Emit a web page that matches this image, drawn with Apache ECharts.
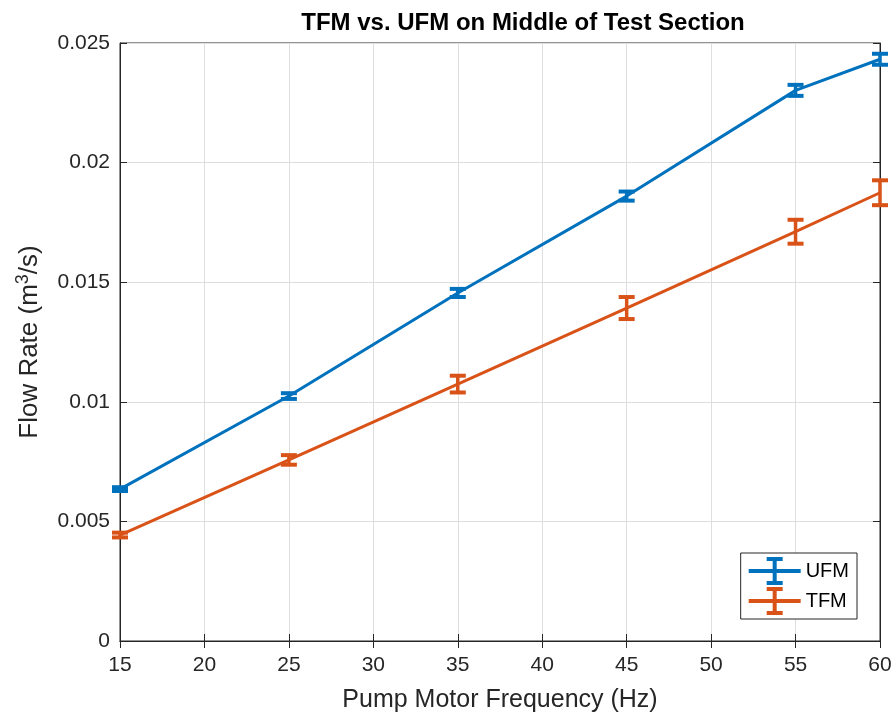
<!DOCTYPE html>
<html>
<head>
<meta charset="utf-8">
<script src="https://cdn.jsdelivr.net/npm/echarts@6/dist/echarts.min.js"></script>
<style>
  html, body { margin: 0; padding: 0; background: #fff; }
  #main { width: 896px; height: 719px; }
</style>
</head>
<body>
<div id="main"></div>
<script>
// pump frequency (Hz)
var freq = [15, 25, 35, 45, 55, 60];
// flow rates (m^3/s) and their error half-widths
var ufm = [0.00635, 0.01024, 0.01455, 0.0186, 0.02302, 0.02432];
var ufmErr = [0.00008, 0.00012, 0.00017, 0.00019, 0.00023, 0.00023];
var tfm = [0.00443, 0.00757, 0.01074, 0.01392, 0.01711, 0.01874];
var tfmErr = [0.0001, 0.0002, 0.00035, 0.00046, 0.0005, 0.00052];

var blue = '#0072BD';
var orange = '#D95319';
var axisCol = '#262626';

// legend icon: line with an error bar on it
var ebIcon = 'path://M0,12h52v4h-52Z M24,2h4v24h-4Z M18,0h16v4h-16Z M18,24h16v4h-16Z';

function pairs(ys) {
    return freq.map(function (f, i) { return [f, ys[i]]; });
}
function errData(ys, es) {
    return freq.map(function (f, i) { return [f, ys[i] - es[i], ys[i] + es[i]]; });
}

// draws vertical bar + caps for each point
function errRender(color) {
    return function (params, api) {
        var lo = api.coord([api.value(0), api.value(1)]);
        var hi = api.coord([api.value(0), api.value(2)]);
        var hw = 8;
        var bar = { stroke: color, lineWidth: 3.5 };
        var cap = { stroke: color, lineWidth: 4 };
        return {
            type: 'group',
            children: [
                { type: 'line', shape: { x1: lo[0], y1: lo[1], x2: hi[0], y2: hi[1] }, style: bar },
                { type: 'line', shape: { x1: lo[0] - hw, y1: lo[1], x2: lo[0] + hw, y2: lo[1] }, style: cap },
                { type: 'line', shape: { x1: hi[0] - hw, y1: hi[1], x2: hi[0] + hw, y2: hi[1] }, style: cap }
            ]
        };
    };
}

var chart = echarts.init(document.getElementById('main'));

var option = {
    backgroundColor: '#fff',
    animation: false,
    textStyle: { fontFamily: 'Liberation Sans, Arial, sans-serif' },
    title: {
        text: 'TFM vs. UFM on Middle of Test Section',
        left: 518, top: 6, textAlign: 'center',
        textStyle: { fontSize: 24, fontWeight: 'bold', color: '#000' }
    },
    grid: {
        left: 120, right: 16, top: 43, bottom: 78,
        outerBoundsMode: 'none',
        show: true, borderColor: axisCol, borderWidth: 1, backgroundColor: '#fff'
    },
    legend: {
        right: 39, bottom: 100,
        orient: 'vertical',
        itemWidth: 52, itemHeight: 28, itemGap: 2,
        padding: [4, 8, 4, 8],
        borderColor: axisCol, borderWidth: 1, borderRadius: 0,
        backgroundColor: '#fff',
        textStyle: { fontSize: 20, color: '#000' },
        data: [
            { name: 'UFM', icon: ebIcon, itemStyle: { color: blue } },
            { name: 'TFM', icon: ebIcon, itemStyle: { color: orange } }
        ]
    },
    xAxis: [{
        type: 'value', min: 15, max: 60, interval: 5,
        name: 'Pump Motor Frequency (Hz)', nameLocation: 'middle', nameGap: 47,
        nameTextStyle: { fontSize: 25, color: axisCol },
        axisLine: { show: true, lineStyle: { color: axisCol } },
        axisTick: { inside: true, length: 7, lineStyle: { color: axisCol } },
        axisLabel: { fontSize: 21, color: axisCol, margin: 14 },
        splitLine: { show: true, lineStyle: { color: '#dedede' } }
    }, {
        type: 'value', min: 15, max: 60, interval: 5, position: 'top',
        axisLine: { show: true, lineStyle: { color: axisCol } },
        axisTick: { inside: true, length: 7, lineStyle: { color: axisCol } },
        axisLabel: { show: false }, splitLine: { show: false }
    }],
    yAxis: [{
        type: 'value', min: 0, max: 0.025, interval: 0.005,
        name: 'Flow Rate (m{sup|3}/s)', nameLocation: 'middle', nameGap: 75,
        nameTextStyle: {
            fontSize: 26, color: axisCol,
            rich: { sup: { fontSize: 18, verticalAlign: 'top', padding: [0, 0, 13, 0], color: axisCol } }
        },
        axisLine: { show: true, lineStyle: { color: axisCol } },
        axisTick: { inside: true, length: 7, lineStyle: { color: axisCol } },
        axisLabel: { fontSize: 21, color: axisCol, margin: 10 },
        splitLine: { show: true, lineStyle: { color: '#dedede' } }
    }, {
        type: 'value', min: 0, max: 0.025, interval: 0.005, position: 'right',
        axisLine: { show: true, lineStyle: { color: axisCol } },
        axisTick: { inside: true, length: 7, lineStyle: { color: axisCol } },
        axisLabel: { show: false }, splitLine: { show: false }
    }],
    series: [
        {
            name: 'UFM', type: 'line', data: pairs(ufm), showSymbol: false,
            lineStyle: { color: blue, width: 3 }, itemStyle: { color: blue }, z: 3
        },
        {
            name: 'TFM', type: 'line', data: pairs(tfm), showSymbol: false,
            lineStyle: { color: orange, width: 3 }, itemStyle: { color: orange }, z: 3
        },
        {
            name: 'UFM', type: 'custom', data: errData(ufm, ufmErr),
            renderItem: errRender(blue), encode: { x: 0, y: [1, 2] }, z: 4
        },
        {
            name: 'TFM', type: 'custom', data: errData(tfm, tfmErr),
            renderItem: errRender(orange), encode: { x: 0, y: [1, 2] }, z: 4
        }
    ]
};

chart.setOption(option);
</script>
</body>
</html>
